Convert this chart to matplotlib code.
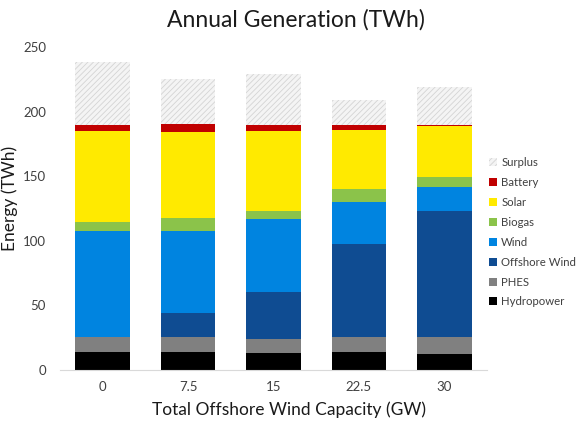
import numpy as np
import matplotlib
matplotlib.use("Agg")
import matplotlib.pyplot as plt
from matplotlib.patches import Patch

plt.rcParams['font.family'] = ['Lato', 'DejaVu Sans']
plt.rcParams['hatch.linewidth'] = 0.6

# offshore wind capacity scenarios (GW)
capacity = ["0", "7.5", "15", "22.5", "30"]

# annual generation per source (TWh), stacked bottom to top
hydropower = [13.9, 13.9, 12.9, 13.7, 12.4]
phes = [11.9, 11.9, 11.3, 12.1, 13.4]
offshore_wind = [0.0, 18.1, 35.9, 71.7, 97.3]
wind = [81.8, 63.7, 56.5, 32.8, 18.3]
biogas = [7.0, 9.8, 6.7, 10.1, 8.2]
solar = [70.4, 66.6, 61.7, 45.1, 39.3]
battery = [4.6, 6.2, 4.6, 3.9, 0.7]
surplus = [49.0, 34.8, 39.5, 19.6, 29.7]

series = [
    ("Hydropower", hydropower, "#000000"),
    ("PHES", phes, "#808080"),
    ("Offshore Wind", offshore_wind, "#0f4c92"),
    ("Wind", wind, "#0084e0"),
    ("Biogas", biogas, "#8bc34a"),
    ("Solar", solar, "#ffea00"),
    ("Battery", battery, "#c00000"),
]

fig = plt.figure(figsize=(5.79, 4.25), dpi=100)
ax = fig.add_axes([0.1036, 0.1294, 0.7375, 0.7596])

x = np.arange(len(capacity))
width = 0.64
bottom = np.zeros(len(capacity))
handles = {}
for name, vals, color in series:
    vals = np.array(vals)
    ax.bar(x, vals, width, bottom=bottom, color=color, linewidth=0)
    handles[name] = Patch(facecolor=color, edgecolor="none")
    bottom += vals

ax.bar(x, surplus, width, bottom=bottom, facecolor="#f4f4f4",
       edgecolor="#d4d4d4", hatch="//////", linewidth=0)
handles["Surplus"] = Patch(facecolor="#f4f4f4", edgecolor="#d4d4d4",
                           hatch="//////", linewidth=0)

ax.set_xlim(-0.5, len(capacity) - 0.5)
ax.set_ylim(0, 250)
ax.set_yticks(range(0, 251, 50))
ax.set_xticks(x)
ax.set_xticklabels(capacity)
ax.tick_params(length=0, labelsize=9.5, colors="#404040", pad=8)
ax.tick_params(axis="y", pad=10)
for side in ["top", "right", "left"]:
    ax.spines[side].set_visible(False)
ax.spines["bottom"].set_color("#d9d9d9")

ax.set_ylabel("Energy (TWh)", fontsize=12.5, color="#1a1a1a")
ax.yaxis.set_label_coords(-0.098, 0.53)
ax.set_xlabel("Total Offshore Wind Capacity (GW)", fontsize=12.5,
              color="#1a1a1a")
ax.xaxis.set_label_coords(0.536, -0.097)
fig.suptitle("Annual Generation (TWh)", fontsize=16.5, color="#1a1a1a",
             x=0.511, y=0.978)

order = ["Surplus", "Battery", "Solar", "Biogas", "Wind",
         "Offshore Wind", "PHES", "Hydropower"]
fig.legend([handles[n] for n in order], order, loc="upper left",
           bbox_to_anchor=(0.845, 0.630), frameon=False, fontsize=8.2,
           handlelength=0.7, handleheight=0.7, handletextpad=0.35,
           labelspacing=0.78, labelcolor="#404040", borderaxespad=0,
           borderpad=0)

fig.savefig("out.png", dpi=100)
